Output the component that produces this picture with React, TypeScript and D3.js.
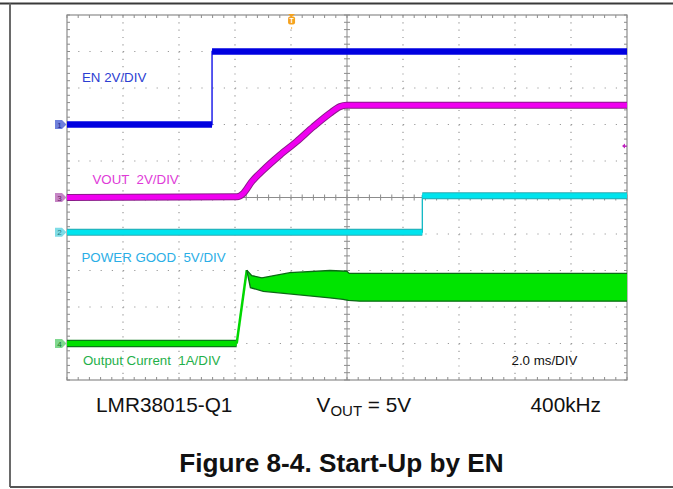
import React from "react";
import * as d3 from "d3";

// ---------- data ----------
const timeDivMs = 2; // 2.0 ms/DIV
const xDomainMs = [0, 20];
const yDomainDiv = [-5, 5];

// Channel 1: EN (2 V/div)
const enTime = [0, 5.18, 5.18, 20];
const enVolts = [0, 0, 4.0, 4.0];

// Channel 3: VOUT (2 V/div)
const voutTime = [0, 6.07, 6.3, 6.6, 7.01, 7.61, 8.2, 8.8, 9.39, 9.75, 9.99, 10.46, 20];
const voutVolts = [0, 0.04, 0.23, 0.87, 1.51, 2.33, 3.06, 3.88, 4.61, 4.98, 5.05, 5.05, 5.05];

// Channel 2: POWER GOOD (5 V/div)
const pgTime = [0, 12.69, 12.69, 20];
const pgVolts = [0, 0, 5.0, 5.0];

// Channel 4: Output current (1 A/div)
const iLowTime = [0, 6.06];
const iLowAmps = [0, 0];
const iRiseTime = [6.06, 6.42];
const iRiseAmps = [0, 2.01];
const iUpperTime = [6.42, 6.6, 6.96, 7.96, 9.39, 9.99, 10.08, 20];
const iUpperAmps = [2.01, 1.86, 1.8, 1.94, 2.0, 1.98, 1.92, 1.92];
const iLowerTime = [6.42, 6.55, 7.01, 8.2, 9.39, 9.86, 10.05, 10.46, 20];
const iLowerAmps = [2.01, 1.53, 1.43, 1.34, 1.25, 1.21, 1.18, 1.16, 1.16];

// channel settings: offset in divisions, units per division
const channelNames = ["1", "2", "3", "4"];
const channelOffsetDiv = [2.0, -0.95, 0, -4.0];
const channelUnitsPerDiv = [2, 5, 2, 1];

const triggerTimeMs = 8.02;
const triggerLevelV = 2.82; // on VOUT channel

const traceLabels = ["EN 2V/DIV", "VOUT  2V/DIV", "POWER GOOD  5V/DIV", "Output Current  1A/DIV"];
const timebaseLabel = "2.0 ms/DIV";
const footerLabels = ["LMR38015-Q1", "400kHz"];
const voutFooter = ["V", "OUT", " = 5V"];
const figureTitle = "Figure 8-4. Start-Up by EN";

// ---------- component ----------
const FONT = "'Liberation Sans', Arial, Helvetica, sans-serif";

export default function App() {
  const W = 673;
  const H = 489;
  const L = 67, R = 627, T = 15, B = 380;
  const x = d3.scaleLinear().domain(xDomainMs).range([L, R]);
  const yd = d3.scaleLinear().domain(yDomainDiv).range([B, T]);
  const yCh = (ch: number, v: number) => yd(channelOffsetDiv[ch] + v / channelUnitsPerDiv[ch]);

  const majorX = d3.range(xDomainMs[0], xDomainMs[1] + 0.001, timeDivMs);
  const majorY = d3.range(yDomainDiv[0], yDomainDiv[1] + 0.001, 1);
  const minorX = d3.range(xDomainMs[0], xDomainMs[1] + 0.001, timeDivMs / 5);
  const minorY = d3.range(yDomainDiv[0], yDomainDiv[1] + 0.001, 0.2);

  const pts = (ch: number, ts: number[], vs: number[]) => ts.map((t, i) => [x(t), yCh(ch, vs[i])] as [number, number]);
  const lin = d3.line();
  const smooth = d3.line().curve(d3.curveMonotoneX);

  const levelSegs = (ch: number, ts: number[], vs: number[]) => {
    const segs: [number, number][][] = [];
    for (let i = 0; i < ts.length - 1; i++) {
      if (vs[i] === vs[i + 1]) segs.push([[x(ts[i]), yCh(ch, vs[i])], [x(ts[i + 1]), yCh(ch, vs[i + 1])]]);
    }
    return segs;
  };

  const enPts = pts(0, enTime, enVolts);
  const pgPts = pts(1, pgTime, pgVolts);
  const voutPts = pts(2, voutTime, voutVolts);
  const upper = pts(3, iUpperTime, iUpperAmps);
  const lower = pts(3, iLowerTime, iLowerAmps);
  const band = [...upper, ...lower.slice().reverse()];

  const gridColor = "#9a9a9a";
  const borderColor = "#8c8c8c";

  const markerColors = ["#6f80dc", "#7fdce6", "#c585c5", "#7fd88f"];
  const markerText = ["#1a2a90", "#1c7f88", "#6a1a6a", "#1a7a2a"];
  const markerY = [0, 1, 2, 3].map((c) => yCh(c, 0));

  const trigX = x(triggerTimeMs);
  const trigLevelY = yCh(2, triggerLevelV);

  return (
    <div style={{ position: "absolute", left: 0, top: 0 }}>
      <svg width={W} height={H} viewBox={`0 0 ${W} ${H}`} style={{ display: "block", background: "#fff" }}>
        {/* page frame */}
        <line x1={0} x2={W} y1={3.5} y2={3.5} stroke="#3a3a3a" strokeWidth={2} />
        <line x1={10} x2={10} y1={3.5} y2={487} stroke="#6a6a6a" strokeWidth={2} />
        <line x1={10} x2={W} y1={487} y2={487} stroke="#555" strokeWidth={2} />

        {/* dotted grid */}
        <g>
          {majorY.slice(1, -1).filter((d) => d !== 0).map((d) => (
            <line key={"gy" + d} x1={L} x2={R} y1={yd(d)} y2={yd(d)} stroke={gridColor} strokeWidth={1.2}
              strokeDasharray={`1.2 ${(x(timeDivMs / 5) - x(0)) - 1.2}`} />
          ))}
          {majorX.slice(1, -1).filter((d) => d !== 10).map((d) => (
            <line key={"gx" + d} x1={x(d)} x2={x(d)} y1={T} y2={B} stroke={gridColor} strokeWidth={1.2}
              strokeDasharray={`1.2 ${(yd(0) - yd(0.2)) - 1.2}`} />
          ))}
        </g>
        {/* center axes with ticks */}
        <line x1={L} x2={R} y1={yd(0)} y2={yd(0)} stroke={borderColor} strokeWidth={1} />
        <line x1={x(10)} x2={x(10)} y1={T} y2={B} stroke={borderColor} strokeWidth={1} />
        {minorX.map((d) => (
          <g key={"mx" + d}>
            <line x1={x(d)} x2={x(d)} y1={yd(0) - 3} y2={yd(0) + 3} stroke={borderColor} strokeWidth={1} />
            <line x1={x(d)} x2={x(d)} y1={T} y2={T + 3} stroke={borderColor} strokeWidth={1} />
            <line x1={x(d)} x2={x(d)} y1={B - 3} y2={B} stroke={borderColor} strokeWidth={1} />
          </g>
        ))}
        {minorY.map((d) => (
          <g key={"my" + d}>
            <line x1={x(10) - 3} x2={x(10) + 3} y1={yd(d)} y2={yd(d)} stroke={borderColor} strokeWidth={1} />
            <line x1={L} x2={L + 3} y1={yd(d)} y2={yd(d)} stroke={borderColor} strokeWidth={1} />
            <line x1={R - 3} x2={R} y1={yd(d)} y2={yd(d)} stroke={borderColor} strokeWidth={1} />
          </g>
        ))}
        <rect x={L} y={T} width={R - L} height={B - T} fill="none" stroke={borderColor} strokeWidth={1.2} />

        {/* EN trace */}
        <path d={lin(enPts) || ""} fill="none" stroke="#0000e6" strokeWidth={1.3} />
        {levelSegs(0, enTime, enVolts).map((s, i) => (
          <path key={"en" + i} d={lin(s) || ""} fill="none" stroke="#0000e0" strokeWidth={6.5} />
        ))}

        {/* VOUT trace */}
        <path d={smooth(voutPts) || ""} fill="none" stroke="#8a1a8a" strokeWidth={7} strokeLinejoin="round" />
        <path d={smooth(voutPts) || ""} fill="none" stroke="#f000f0" strokeWidth={5} strokeLinejoin="round" />

        {/* POWER GOOD trace */}
        <path d={lin(pgPts) || ""} fill="none" stroke="#10b8c4" strokeWidth={1.3} />
        {levelSegs(1, pgTime, pgVolts).map((s, i) => (
          <g key={"pg" + i}>
            <path d={lin(s) || ""} fill="none" stroke="#2aa8b0" strokeWidth={7} />
            <path d={lin(s) || ""} fill="none" stroke="#00e4ee" strokeWidth={5} />
          </g>
        ))}

        {/* Output current */}
        <path d={lin(pts(3, iLowTime, iLowAmps)) || ""} fill="none" stroke="#0a7a18" strokeWidth={7.5} />
        <path d={lin(pts(3, iLowTime, iLowAmps)) || ""} fill="none" stroke="#00e000" strokeWidth={5} />
        <path d={lin(pts(3, iRiseTime, iRiseAmps)) || ""} fill="none" stroke="#00d800" strokeWidth={2.5} />
        <path d={lin(band) + "Z"} fill="#00e400" stroke="none" />
        <path d={lin(upper) || ""} fill="none" stroke="#0a6a14" strokeWidth={1.3} />
        <path d={lin(lower) || ""} fill="none" stroke="#0a6a14" strokeWidth={1.3} />

        {/* channel ground markers */}
        {channelNames.map((n, c) => {
          const my = markerY[c];
          return (
            <g key={"mk" + n}>
              <path d={`M55,${my - 4.5} L62,${my - 4.5} L66.5,${my} L62,${my + 4.5} L55,${my + 4.5} Z`}
                fill={markerColors[c]} />
              <text x={59.5} y={my + 3} fontSize={8} fontFamily={FONT} textAnchor="middle" fill={markerText[c]}>{n}</text>
            </g>
          );
        })}

        {/* trigger position marker */}
        <g>
          <path d={`M${trigX - 3.5},14 L${trigX + 3.5},14 L${trigX},17 Z`} fill="#f5a21e" />
          <rect x={trigX - 3.5} y={16.5} width={7} height={8} rx={2} fill="#f5a21e" />
          <text x={trigX} y={23.3} fontSize={7} fontFamily={FONT} fontWeight="bold" textAnchor="middle" fill="#fff">T</text>
          <circle cx={trigX} cy={28} r={0.7} fill="#f5a21e" />
        </g>
        {/* trigger level marker */}
        <path d={`M${R - 5},${trigLevelY} L${R - 2},${trigLevelY - 2.5} L${R - 2},${trigLevelY + 2.5} Z`} fill="#c020c0" />
        <line x1={R - 2} x2={R} y1={trigLevelY} y2={trigLevelY} stroke="#c020c0" strokeWidth={1.2} />

        {/* trace labels */}
        <g fontFamily={FONT} fontSize={13.3}>
          <text x={82} y={82} fill="#2b3ed2">{traceLabels[0]}</text>
          <text x={92.5} y={184} fill="#e03ad8" style={{ whiteSpace: "pre" }}>{traceLabels[1]}</text>
          <text x={81.5} y={261.5} fill="#2aaee6" style={{ whiteSpace: "pre" }}>{traceLabels[2]}</text>
          <text x={83} y={365} fill="#1fb04a" style={{ whiteSpace: "pre" }}>{traceLabels[3]}</text>
          <text x={511.5} y={365} fill="#111">{timebaseLabel}</text>
        </g>

        {/* footer */}
        <g fontFamily={FONT} fill="#111">
          <text x={96} y={412.3} fontSize={20.8}>{footerLabels[0]}</text>
          <text x={316.5} y={412.3} fontSize={20.8}>
            {voutFooter[0]}
            <tspan fontSize={15} dy={4}>{voutFooter[1]}</tspan>
            <tspan dy={-4}>{voutFooter[2]}</tspan>
          </text>
          <text x={530.5} y={412.3} fontSize={20.8}>{footerLabels[1]}</text>
          <text x={341.5} y={472} fontSize={26.2} fontWeight="bold" textAnchor="middle">{figureTitle}</text>
        </g>
      </svg>
    </div>
  );
}
